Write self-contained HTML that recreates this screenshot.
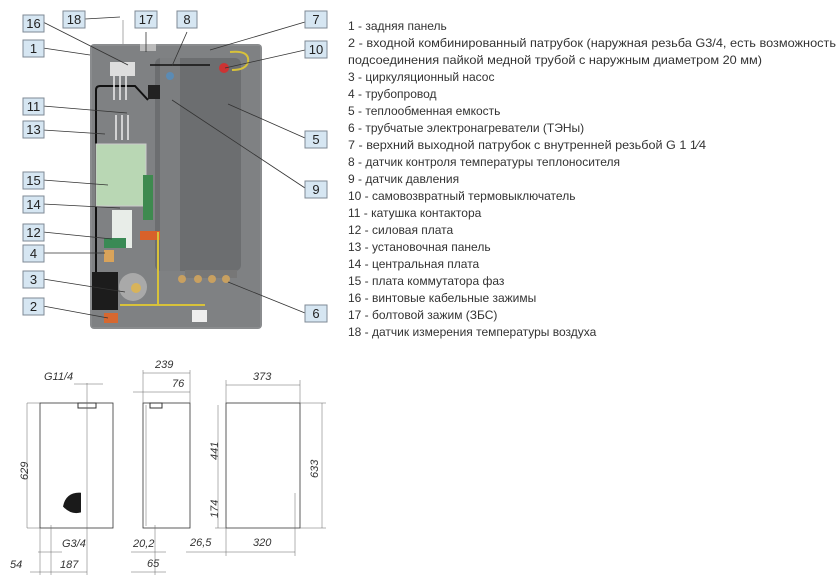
<!DOCTYPE html>
<html><head><meta charset="utf-8"><style>
html,body{margin:0;padding:0;background:#fff;}
svg{display:block;}
.t{font-family:"Liberation Sans","DejaVu Sans",sans-serif;font-size:12px;fill:#333;}
.lb{fill:#d6e6f2;stroke:#7f8a95;stroke-width:1;}
.ln{font-family:"Liberation Sans",sans-serif;font-size:13px;fill:#222;text-anchor:middle;}
.d{font-family:"Liberation Sans",sans-serif;font-size:11px;font-style:italic;fill:#333;}
.k{stroke:#333;stroke-width:0.8;fill:none;}
.th{stroke:#666;stroke-width:0.5;fill:none;}
</style></head><body>
<svg width="839" height="583" viewBox="0 0 839 583" xmlns="http://www.w3.org/2000/svg">
<!-- boiler panel -->
<rect x="90" y="44" width="172" height="285" rx="4" fill="#8a8c8e"/>
<rect x="92" y="46" width="168" height="281" fill="#7f8183"/>
<!-- cylinder -->
<rect x="155" y="58" width="86" height="213" rx="6" fill="#6c6e70"/>
<rect x="160" y="58" width="20" height="213" fill="#7c7e80"/>
<!-- wires left -->
<path d="M96 300 L96 90 Q96 86 100 86 L135 86 L148 100" stroke="#111" stroke-width="2" fill="none"/>
<rect x="110" y="62" width="25" height="14" fill="#ddd"/>
<path d="M114 76 V100 M120 76 V100 M126 76 V100 M116 115 V140 M122 115 V140 M128 115 V140" stroke="#eee" stroke-width="1.5"/>
<!-- green board -->
<rect x="96" y="144" width="50" height="62" fill="#b9d7b4" stroke="#ccc"/>
<rect x="143" y="175" width="10" height="45" fill="#3e8a4f"/>
<rect x="112" y="210" width="20" height="38" fill="#e8ede8"/>
<rect x="104" y="238" width="22" height="10" fill="#3a8a55"/>
<!-- pump -->
<rect x="92" y="272" width="26" height="38" fill="#1c1c1c"/>
<circle cx="133" cy="287" r="14" fill="#a9a9a9"/>
<circle cx="136" cy="288" r="5" fill="#d8b35a"/>
<rect x="104" y="250" width="10" height="12" fill="#d9a35a"/>
<rect x="140" y="231" width="20" height="9" fill="#d8612a"/>
<rect x="104" y="313" width="14" height="10" fill="#d66830"/>
<path d="M158 232 V305 H205 M120 305 H160" stroke="#d8c23a" stroke-width="2" fill="none"/>
<path d="M230 52 Q250 50 248 62 Q246 70 232 70" stroke="#d8c23a" stroke-width="2" fill="none"/>
<circle cx="224" cy="68" r="5" fill="#c33"/>
<circle cx="170" cy="76" r="4" fill="#5b8bb4"/>
<rect x="148" y="85" width="12" height="14" fill="#222"/>
<path d="M150 65 H210" stroke="#111" stroke-width="1.5"/>
<rect x="185" y="270" width="52" height="8" fill="#777"/>
<circle cx="182" cy="279" r="4" fill="#c8a060"/><circle cx="198" cy="279" r="4" fill="#c8a060"/><circle cx="212" cy="279" r="4" fill="#c8a060"/><circle cx="226" cy="279" r="4" fill="#c8a060"/>
<rect x="192" y="310" width="15" height="12" fill="#eee"/>
<rect x="140" y="44" width="16" height="7" fill="#bbb"/>
<path d="M123 20 V44" stroke="#aaa"/>
<!-- leader lines -->
<g stroke="#333" stroke-width="0.8">
<line x1="43" y1="48" x2="90" y2="55"/>
<line x1="43" y1="22" x2="128" y2="65"/>
<line x1="85" y1="19" x2="120" y2="17"/>
<line x1="146" y1="32" x2="146" y2="52"/>
<line x1="187" y1="32" x2="172" y2="66"/>
<line x1="305" y1="22" x2="210" y2="50"/>
<line x1="305" y1="50" x2="225" y2="68"/>
<line x1="305" y1="138" x2="228" y2="104"/>
<line x1="305" y1="188" x2="172" y2="100"/>
<line x1="305" y1="313" x2="228" y2="282"/>
<line x1="43" y1="106" x2="127" y2="113"/>
<line x1="43" y1="130" x2="105" y2="134"/>
<line x1="43" y1="180" x2="108" y2="185"/>
<line x1="43" y1="204" x2="120" y2="208"/>
<line x1="43" y1="232" x2="112" y2="239"/>
<line x1="43" y1="253" x2="105" y2="253"/>
<line x1="43" y1="279" x2="125" y2="292"/>
<line x1="43" y1="306" x2="108" y2="318"/>
</g>
<g>
<rect class="lb" x="23" y="15" width="21" height="17"/><text class="ln" x="33.5" y="28">16</text>
<rect class="lb" x="63" y="11" width="22" height="17"/><text class="ln" x="74" y="24">18</text>
<rect class="lb" x="135" y="11" width="22" height="17"/><text class="ln" x="146" y="24">17</text>
<rect class="lb" x="177" y="11" width="20" height="17"/><text class="ln" x="187" y="24">8</text>
<rect class="lb" x="305" y="11" width="22" height="17"/><text class="ln" x="316" y="24">7</text>
<rect class="lb" x="305" y="41" width="22" height="17"/><text class="ln" x="316" y="54">10</text>
<rect class="lb" x="23" y="40" width="21" height="17"/><text class="ln" x="33.5" y="53">1</text>
<rect class="lb" x="23" y="98" width="21" height="17"/><text class="ln" x="33.5" y="111">11</text>
<rect class="lb" x="23" y="121" width="21" height="17"/><text class="ln" x="33.5" y="134">13</text>
<rect class="lb" x="23" y="172" width="21" height="17"/><text class="ln" x="33.5" y="185">15</text>
<rect class="lb" x="23" y="196" width="21" height="17"/><text class="ln" x="33.5" y="209">14</text>
<rect class="lb" x="23" y="224" width="21" height="17"/><text class="ln" x="33.5" y="237">12</text>
<rect class="lb" x="23" y="245" width="21" height="17"/><text class="ln" x="33.5" y="258">4</text>
<rect class="lb" x="23" y="271" width="21" height="17"/><text class="ln" x="33.5" y="284">3</text>
<rect class="lb" x="23" y="298" width="21" height="17"/><text class="ln" x="33.5" y="311">2</text>
<rect class="lb" x="305" y="131" width="22" height="17"/><text class="ln" x="316" y="144">5</text>
<rect class="lb" x="305" y="181" width="22" height="17"/><text class="ln" x="316" y="194">9</text>
<rect class="lb" x="305" y="305" width="22" height="17"/><text class="ln" x="316" y="318">6</text>
</g>
<!-- legend -->
<g class="t">
<text x="348" y="30">1 - задняя панель</text>
<text x="348" y="47" textLength="488" lengthAdjust="spacingAndGlyphs">2 - входной комбинированный патрубок (наружная резьба G3/4, есть возможность</text>
<text x="348" y="64" textLength="414" lengthAdjust="spacingAndGlyphs">подсоединения пайкой медной трубой с наружным диаметром 20 мм)</text>
<text x="348" y="81">3 - циркуляционный насос</text>
<text x="348" y="98">4 - трубопровод</text>
<text x="348" y="115">5 - теплообменная емкость</text>
<text x="348" y="132">6 - трубчатые электронагреватели (ТЭНы)</text>
<text x="348" y="149" textLength="358" lengthAdjust="spacingAndGlyphs">7 - верхний выходной патрубок с внутренней резьбой G 1 1⁄4</text>
<text x="348" y="166">8 - датчик контроля температуры теплоносителя</text>
<text x="348" y="183">9 - датчик давления</text>
<text x="348" y="200">10 - самовозвратный термовыключатель</text>
<text x="348" y="217">11 - катушка контактора</text>
<text x="348" y="234">12 - силовая плата</text>
<text x="348" y="251">13 - установочная панель</text>
<text x="348" y="268">14 - центральная плата</text>
<text x="348" y="285">15 - плата коммутатора фаз</text>
<text x="348" y="302">16 - винтовые кабельные зажимы</text>
<text x="348" y="319">17 - болтовой зажим (ЗБС)</text>
<text x="348" y="336">18 - датчик измерения температуры воздуха</text>
</g>
<!-- drawings -->
<g>
<rect class="k" x="40" y="403" width="73" height="125"/>
<path d="M67 427 Q70 412 85 413 V433 Q75 436 67 427Z" fill="#1a1a1a" transform="translate(-4 88) scale(1 0.98)"/>
<rect x="78" y="403" width="18" height="5" fill="none" stroke="#333"/>
<g class="th">
<line x1="27" y1="403" x2="40" y2="403"/><line x1="27" y1="528" x2="40" y2="528"/>
<line x1="27" y1="403" x2="27" y2="528"/>
<line x1="87" y1="383" x2="87" y2="575"/><line x1="74" y1="384" x2="103" y2="384"/>
<line x1="51" y1="525" x2="51" y2="575"/><line x1="40" y1="528" x2="40" y2="575"/>
<line x1="38" y1="552" x2="62" y2="552"/><line x1="30" y1="572" x2="87" y2="572"/>
</g>
<text class="d" x="44" y="380">G11/4</text>
<text class="d" x="28" y="480" transform="rotate(-90 28 480)">629</text>
<text class="d" x="62" y="547">G3/4</text>
<text class="d" x="10" y="568">54</text>
<text class="d" x="60" y="568">187</text>
<rect class="k" x="143" y="403" width="47" height="125"/>
<line class="th" x1="146" y1="405" x2="146" y2="526"/>
<rect x="150" y="403" width="12" height="5" fill="none" stroke="#333"/>
<g class="th">
<line x1="143" y1="373" x2="190" y2="373"/><line x1="190" y1="370" x2="190" y2="403"/><line x1="143" y1="370" x2="143" y2="403"/>
<line x1="133" y1="392" x2="190" y2="392"/>
<line x1="155" y1="525" x2="155" y2="575"/><line x1="131" y1="552" x2="166" y2="552"/><line x1="131" y1="572" x2="166" y2="572"/>
</g>
<text class="d" x="155" y="368">239</text>
<text class="d" x="172" y="387">76</text>
<text class="d" x="133" y="547">20,2</text>
<text class="d" x="147" y="567">65</text>
<rect class="k" x="226" y="403" width="74" height="125"/>
<g class="th">
<line x1="226" y1="385" x2="300" y2="385"/><line x1="226" y1="380" x2="226" y2="403"/><line x1="300" y1="380" x2="300" y2="403"/>
<line x1="218" y1="405" x2="218" y2="528"/><line x1="322" y1="403" x2="322" y2="528"/>
<line x1="300" y1="403" x2="326" y2="403"/><line x1="215" y1="528" x2="326" y2="528"/>
<line x1="226" y1="528" x2="226" y2="556"/><line x1="295" y1="493" x2="295" y2="556"/>
<line x1="186" y1="552" x2="295" y2="552"/>
</g>
<text class="d" x="253" y="380">373</text>
<text class="d" x="218" y="460" transform="rotate(-90 218 460)">441</text>
<text class="d" x="218" y="518" transform="rotate(-90 218 518)">174</text>
<text class="d" x="318" y="478" transform="rotate(-90 318 478)">633</text>
<text class="d" x="190" y="546">26,5</text>
<text class="d" x="253" y="546">320</text>
</g>
</svg>
</body></html>
